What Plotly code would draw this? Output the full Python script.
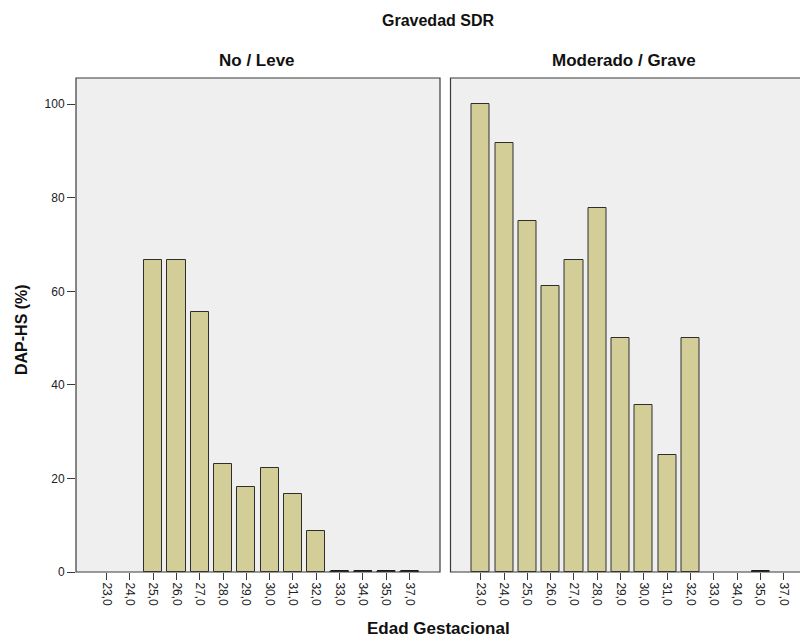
import plotly.graph_objects as go

# Gestational age categories (x axis labels)
edad_labels = ["23,0", "24,0", "25,0", "26,0", "27,0", "28,0", "29,0",
               "30,0", "31,0", "32,0", "33,0", "34,0", "35,0", "37,0"]

# DAP-HS (%) by gestational age, one list per RDS severity group (None = no cases)
no_leve = [None, None, 66.7, 66.7, 55.6, 23.1, 18.2, 22.2, 16.7, 8.7, 0, 0, 0, 0]
moderado_grave = [100, 91.7, 75.0, 61.1, 66.7, 77.8, 50.0, 35.7, 25.0, 50.0, None, None, 0, None]

panel_titles = ["No / Leve", "Moderado / Grave"]

BAR_FILL = "rgb(211,206,152)"
BAR_EDGE = "#2e2e2e"
FRAME = "#3a3a3a"
BG = "#efefef"
BAR_W = 0.78
FONT = "Liberation Sans, Arial, sans-serif"

pos = list(range(len(edad_labels)))

fig = go.Figure()

panels = [
    (no_leve, "x", "y"),
    (moderado_grave, "x2", "y2"),
]

for values, xa, ya in panels:
    fig.add_trace(go.Bar(
        x=pos, y=values, width=BAR_W, xaxis=xa, yaxis=ya,
        marker=dict(color=BAR_FILL, line=dict(color=BAR_EDGE, width=1)),
        showlegend=False, hoverinfo="skip",
    ))
    # zero-valued categories are shown as a flat dark bar at the baseline
    zx, zy = [], []
    for i, v in enumerate(values):
        if v == 0:
            zx += [i - BAR_W / 2, i + BAR_W / 2, None]
            zy += [0, 0, None]
    if zx:
        fig.add_trace(go.Scatter(
            x=zx, y=zy, mode="lines", xaxis=xa, yaxis=ya,
            line=dict(color="#1a1a1a", width=4),
            showlegend=False, hoverinfo="skip",
        ))

# panel geometry in paper coordinates
LEFT_DOM = [76 / 800, 440 / 800]
RIGHT_DOM = [450.5 / 800, 1.0]
Y_DOM = [70 / 642, 564 / 642]

xcommon = dict(
    tickmode="array", tickvals=pos, ticktext=edad_labels, tickangle=90,
    ticks="outside", ticklen=7, tickcolor=FRAME, tickwidth=1,
    showgrid=False, zeroline=False, showline=False, automargin=False,
    tickfont=dict(family=FONT, size=12, color="#222"),
)
fig.update_layout(
    width=800, height=642,
    margin=dict(l=0, r=0, t=0, b=0),
    paper_bgcolor="white", plot_bgcolor=BG,
    bargap=0,
    xaxis=dict(domain=LEFT_DOM, range=[-1.31, 14.31], anchor="y", **xcommon),
    xaxis2=dict(domain=RIGHT_DOM, range=[-1.3, 13.7], anchor="y2", **xcommon),
    yaxis=dict(domain=Y_DOM, range=[0, 105.6], anchor="x", automargin=False,
               tickvals=[0, 20, 40, 60, 80, 100], ticks="outside", ticklen=8,
               tickcolor=FRAME, showgrid=False, zeroline=False, showline=False,
               tickfont=dict(family=FONT, size=12, color="#222")),
    yaxis2=dict(domain=Y_DOM, range=[0, 105.6], anchor="x2", automargin=False,
                showticklabels=False, ticks="", showgrid=False,
                zeroline=False, showline=False),
)

# panel frames (the right one runs past the canvas edge)
for x0, x1 in [(LEFT_DOM[0], LEFT_DOM[1]), (RIGHT_DOM[0], 813 / 800)]:
    fig.add_shape(type="rect", xref="paper", yref="paper",
                  x0=x0, x1=x1, y0=Y_DOM[0], y1=Y_DOM[1],
                  line=dict(color=FRAME, width=1.2), fillcolor="rgba(0,0,0,0)",
                  layer="above")

def title_font(size):
    return dict(family=FONT, size=size, color="#111")

ann = [
    dict(text="<b>Gravedad SDR</b>", x=438 / 800, y=1 - 20 / 642, font=title_font(16)),
    dict(text="<b>%s</b>" % panel_titles[0], x=257 / 800, y=1 - 60 / 642, font=title_font(17)),
    dict(text="<b>%s</b>" % panel_titles[1], x=624 / 800, y=1 - 60 / 642, font=title_font(17)),
    dict(text="<b>Edad Gestacional</b>", x=438 / 800, y=1 - 628 / 642, font=title_font(17)),
]
for a in ann:
    fig.add_annotation(xref="paper", yref="paper", showarrow=False,
                       xanchor="center", yanchor="middle", **a)
fig.add_annotation(xref="paper", yref="paper", showarrow=False,
                   text="<b>DAP-HS (%)</b>", textangle=-90,
                   x=22 / 800, y=1 - 330 / 642,
                   xanchor="center", yanchor="middle", font=title_font(16))

fig.write_html("out.html")
